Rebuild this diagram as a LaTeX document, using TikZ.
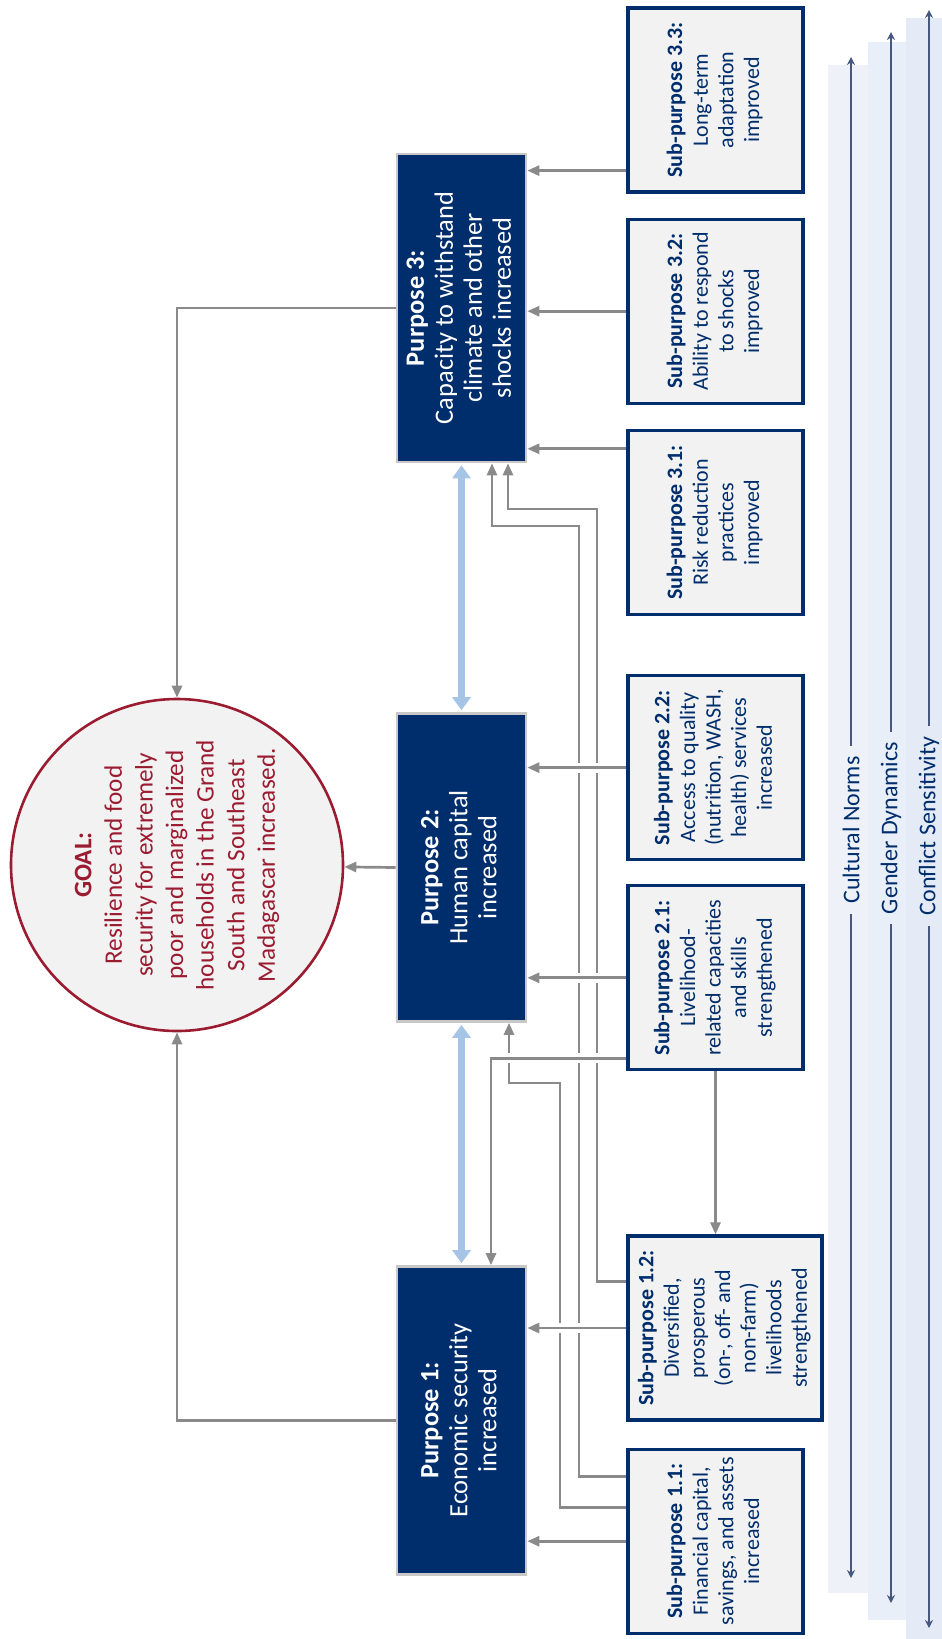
\documentclass[tikz,border=0pt]{standalone}
\usepackage{fontspec}
\setmainfont{Carlito}
\usetikzlibrary{positioning,calc,arrows.meta}

\definecolor{navy}{RGB}{0,45,108}
\definecolor{boxgray}{RGB}{242,242,242}
\definecolor{edgegray}{RGB}{200,200,200}
\definecolor{linkgray}{RGB}{138,138,138}
\definecolor{skyblue}{RGB}{166,196,230}
\definecolor{goalred}{RGB}{155,27,48}
\definecolor{barblue}{RGB}{70,88,125}
\definecolor{bandA}{RGB}{238,242,248}
\definecolor{bandB}{RGB}{233,239,248}
\definecolor{bandC}{RGB}{228,235,246}

\newcommand{\rottext}[1]{\rotatebox{90}{\begin{tabular}{@{}c@{}}#1\end{tabular}}}

\begin{document}
\begin{tikzpicture}[
    x=0.5pt, y=-0.5pt,
    purp/.style={draw=edgegray, line width=1.3pt, fill=navy, text=white,
        minimum width=64.5pt, minimum height=154pt, inner sep=0pt,
        font=\fontsize{13.2}{14.5}\selectfont},
    subp/.style={draw=navy, line width=1.6pt, fill=boxgray, text=navy,
        minimum width=87.5pt, minimum height=92pt, inner sep=0pt,
        font=\fontsize{11}{12.8}\selectfont},
    goalc/.style={circle, draw=goalred, line width=1.3pt, fill=boxgray, text=goalred,
        minimum size=166pt, inner sep=0pt, font=\fontsize{12.6}{15.3}\selectfont},
    link/.style={draw=linkgray, line width=1.35pt, -{Triangle[length=6pt,width=5pt]}},
    bridge/.style={preaction={draw=white, line width=5pt, -, shorten <=2pt, shorten >=8pt}},
    mutual/.style={draw=skyblue, line width=3.5pt,
        {Triangle[length=6.5pt,width=9pt]}-{Triangle[length=6.5pt,width=9pt]},
        shorten <=1pt, shorten >=1pt},
    barlbl/.style={text=navy, inner sep=5pt, font=\fontsize{12}{14}\selectfont},
    barline/.style={draw=barblue, line width=0.7pt, -{Stealth[length=4pt,width=4pt]}}
]
    \useasboundingbox (0,0) rectangle (942,1639);

    % cross-cutting bands
    \fill[bandA] (828,65) rectangle (868,1593);
    \fill[bandB] (868,42) rectangle (906,1620);
    \fill[bandC] (906,18) rectangle (942,1639);

    \node[goalc] (goal) at (177,865) {\rottext{\textbf{GOAL:}\\Resilience and food\\security for extremely\\poor and marginalized\\households in the Grand\\South and Southeast\\Madagascar increased.}};

    \node[purp] (p3) at (461.5,308) {\rottext{\textbf{Purpose 3:}\\Capacity to withstand\\climate and other\\shocks increased}};
    \node[purp] (p2) at (461.5,867.5) {\rottext{\textbf{Purpose 2:}\\Human capital\\increased}};
    \node[purp] (p1) at (461.5,1420.5) {\rottext{\textbf{Purpose 1:}\\Economic security\\increased}};

    \node[subp] (sp33) at (715.5,100) {\rottext{\textbf{Sub-purpose 3.3:}\\Long-term\\adaptation\\improved}};
    \node[subp, below=12pt of sp33] (sp32) {\rottext{\textbf{Sub-purpose 3.2:}\\Ability to respond\\to shocks\\improved}};
    \node[subp, below=12pt of sp32] (sp31) {\rottext{\textbf{Sub-purpose 3.1:}\\Risk reduction\\practices\\improved}};
    \node[subp, below=29pt of sp31] (sp22) {\rottext{\textbf{Sub-purpose 2.2:}\\Access to quality\\(nutrition, WASH,\\health) services\\increased}};
    \node[subp, below=11.5pt of sp22] (sp21) {\rottext{\textbf{Sub-purpose 2.1:}\\Livelihood-\\related capacities\\and skills\\strengthened}};
    \node[subp, minimum width=97pt, anchor=north west, below right=81.5pt and 0pt of sp21.south west] (sp12) {\rottext{\textbf{Sub-purpose 1.2:}\\Diversified,\\prosperous\\(on-, off- and\\non-farm)\\livelihoods\\strengthened}};
    \node[subp, anchor=north west, below right=13pt and 0pt of sp12.south west] (sp11) {\rottext{\textbf{Sub-purpose 1.1:}\\Financial capital,\\savings, and assets\\increased}};

    \node[barlbl] (cnlab) at (851,830) {\rotatebox{90}{Cultural Norms}};
    \node[barlbl] (gdlab) at (891,828) {\rotatebox{90}{Gender Dynamics}};
    \node[barlbl] (cslab) at (929,826) {\rotatebox{90}{Conflict Sensitivity}};
    \coordinate (cntop) at (851,57);
    \coordinate (cnbot) at (851,1578);
    \coordinate (gdtop) at (891,32);
    \coordinate (gdbot) at (891,1603);
    \coordinate (cstop) at (929,10);
    \coordinate (csbot) at (929,1628);
    \draw[barline] (cnlab) -- (cntop);
    \draw[barline] (cnlab) -- (cnbot);
    \draw[barline] (gdlab) -- (gdtop);
    \draw[barline] (gdlab) -- (gdbot);
    \draw[barline] (cslab) -- (cstop);
    \draw[barline] (cslab) -- (csbot);

    \draw[link] (p1.west) -| (goal.south);
    \draw[link] (p2.west) -- (goal);
    \draw[link] (p3.west) -| (goal.north);
    \draw[mutual] (p1.north) -- (p2.south);
    \draw[mutual] (p2.north) -- (p3.south);

    % long routes first, the others cut gaps into them
    \coordinate (bendA) at (560,1083);
    \coordinate (bendB) at (579,526);
    \coordinate (bendC) at (597,509);
    \draw[link] ($(sp11.north west)+(0,60)$) -| (bendA) -| ($(p2.south)+(47.5,0)$);
    \draw[link] ($(sp11.north west)+(0,29)$) -| (bendB) -| ($(p3.south)+(30.5,0)$);
    \draw[link] ($(sp12.north west)+(0,47)$) -| (bendC) -| ($(p3.south)+(46.5,0)$);

    \draw[link,bridge] ($(sp21.south west)+(0,-13)$) -| ($(p1.north)+(29.5,0)$);
    \draw[link,bridge] (sp11.west) -- (sp11.west -| p1.east);
    \draw[link,bridge] (sp12.west) -- (sp12.west -| p1.east);
    \draw[link,bridge] (sp21.west) -- (sp21.west -| p2.east);
    \draw[link,bridge] (sp22.west) -- (sp22.west -| p2.east);
    \draw[link] ($(sp31.north west)+(0,20)$) coordinate (s31) -- (s31 -| p3.east);
    \draw[link] (sp32.west) -- (sp32.west -| p3.east);
    \draw[link] ($(sp33.south west)+(0,-23)$) coordinate (s33) -- (s33 -| p3.east);
    \draw[link] (sp21.south) -- (sp21.south |- sp12.north);
\end{tikzpicture}
\end{document}
